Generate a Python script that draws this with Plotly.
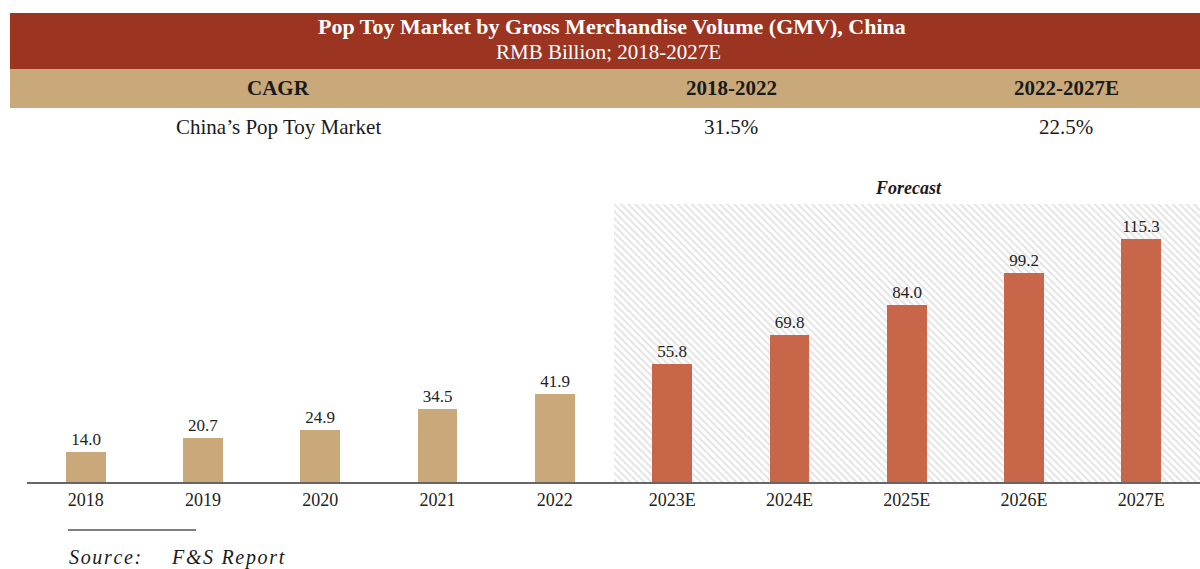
import plotly.graph_objects as go

years = ["2018", "2019", "2020", "2021", "2022", "2023E", "2024E", "2025E", "2026E", "2027E"]
gmv = [14.0, 20.7, 24.9, 34.5, 41.9, 55.8, 69.8, 84.0, 99.2, 115.3]
forecast_years = ["2023E", "2024E", "2025E", "2026E", "2027E"]
cagr_headers = ["CAGR", "2018-2022", "2022-2027E"]
cagr_row = ["China\u2019s Pop Toy Market", "31.5%", "22.5%"]

W, H = 1200, 569
YMAX = 131.9
FONT = "Liberation Serif, Times New Roman, serif"
TAN = "#C9A97A"
RED = "#C8664A"
HEAD = "#9B3522"

def px(x):
    return x / W

def py(y):
    return 1 - y / H

colors = [TAN if y not in forecast_years else RED for y in years]

fig = go.Figure()
fig.add_trace(go.Bar(
    x=forecast_years, y=[YMAX] * len(forecast_years), width=1.0,
    marker=dict(color="white", line=dict(width=0),
                pattern=dict(shape="\\", size=5, solidity=0.4, fgcolor="#c8c8c8", bgcolor="white")),
    hoverinfo="skip", showlegend=False,
))
fig.add_trace(go.Bar(
    x=years, y=gmv, width=0.34,
    marker=dict(color=colors, line=dict(width=0)),
    text=[f"{v:.1f}" for v in gmv], textposition="outside",
    textfont=dict(family=FONT, size=17, color="#222222"),
    cliponaxis=False, showlegend=False,
))

shapes = [
    dict(type="rect", xref="paper", yref="paper", x0=px(10), x1=1, y0=py(69), y1=py(13),
         fillcolor=HEAD, line=dict(width=0), layer="below"),
    dict(type="rect", xref="paper", yref="paper", x0=px(10), x1=1, y0=py(108), y1=py(69),
         fillcolor=TAN, line=dict(width=0), layer="below"),
    dict(type="line", xref="paper", yref="paper", x0=px(68), x1=px(196), y0=py(530), y1=py(530),
         line=dict(color="#000000", width=1)),
]

HS = "\u200a"
def spaced(s):
    return HS.join(list(s))

col_x = [278, 731, 1066]
ann = [
    dict(x=px(612), y=py(27), text="<b>Pop Toy Market by Gross Merchandise Volume (GMV), China</b>",
         font=dict(family=FONT, size=22, color="white")),
    dict(x=px(609), y=py(52), text="RMB Billion; 2018-2027E",
         font=dict(family=FONT, size=21, color="white")),
]
for cx, h, r in zip(col_x, cagr_headers, cagr_row):
    ann.append(dict(x=px(cx), y=py(88), text=f"<b>{h}</b>", font=dict(family=FONT, size=21, color="#1a1a1a")))
    ann.append(dict(x=px(cx), y=py(127), text=r, font=dict(family=FONT, size=21, color="#1a1a1a")))
ann.append(dict(x=px(908), y=py(188), text="<b><i>Forecast</i></b>", font=dict(family=FONT, size=18, color="#1a1a1a")))
ann.append(dict(x=px(67), y=py(557), text="<i>" + spaced("Source:") + "</i>", xanchor="left",
                font=dict(family=FONT, size=20, color="#1a1a1a")))
ann.append(dict(x=px(169), y=py(557), text="<i>" + spaced("F&S Report").replace("&", "&amp;") + "</i>", xanchor="left",
                font=dict(family=FONT, size=20, color="#1a1a1a")))
for a in ann:
    a.update(xref="paper", yref="paper", showarrow=False)
    a.setdefault("xanchor", "center")
    a.setdefault("yanchor", "middle")

fig.update_layout(
    width=W, height=H,
    margin=dict(l=0, r=0, t=0, b=0),
    paper_bgcolor="white", plot_bgcolor="white",
    barmode="overlay", bargap=0,
    xaxis=dict(domain=[px(27), 1], showgrid=False, showline=True, linecolor="#666666", linewidth=2,
               categoryorder="array", categoryarray=years,
               ticks="", tickfont=dict(family=FONT, size=18, color="#222222"), fixedrange=True),
    yaxis=dict(domain=[py(482), py(204)], range=[0, YMAX], visible=False, fixedrange=True),
    shapes=shapes, annotations=ann,
    font=dict(family=FONT),
)

fig.write_html(
    "out.html",
    config={"displayModeBar": False},
    post_script="document.body.style.margin='0';document.body.style.overflow='hidden';",
)
